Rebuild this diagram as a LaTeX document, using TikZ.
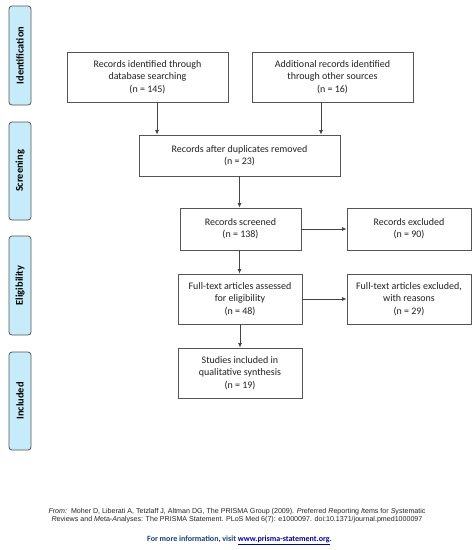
\documentclass[tikz,border=0pt]{standalone}
\usepackage{fontspec}
\setmainfont{Carlito}
\newfontfamily\arialfont{Liberation Sans}
\usetikzlibrary{arrows.meta,calc}
\definecolor{phasefill}{HTML}{C6ECF9}
\definecolor{boxline}{HTML}{555555}
\definecolor{linkblue}{HTML}{1F4E9A}
\definecolor{txtdark}{HTML}{222222}
\begin{document}
\begin{tikzpicture}[x=1pt,y=-1pt,
  stagebox/.style={draw=boxline,line width=0.8pt,fill=white,rectangle,align=center,
    inner sep=0pt,font=\fontsize{10}{12.4}\selectfont,text=txtdark},
  phase/.style={draw=boxline,line width=0.8pt,fill=phasefill,rounded corners=3pt,
    minimum height=22pt,inner sep=0pt,rotate=90,
    font=\bfseries\fontsize{10.4}{11}\selectfont,text=black},
  arr/.style={draw=boxline!80!black,line width=0.8pt,-{Latex[length=4.5pt,width=4pt]}}]
\useasboundingbox (0,0) rectangle (476,550);
% phase labels
\node[phase,minimum width=99pt] (pid) at (20,55.5) {Identification};
\node[phase,minimum width=98pt] (psc) at (20,171) {Screening};
\node[phase,minimum width=99pt] (pel) at (20,285.5) {Eligibility};
\node[phase,minimum width=98pt] (pin) at (20,401) {Included};
% boxes
\node[stagebox,minimum width=161pt,minimum height=50pt] (b1) at (147.5,77)
  {Records identified through\\database searching\\(n = 145)};
\node[stagebox,minimum width=161pt,minimum height=50pt] (b2) at (332.5,77)
  {Additional records identified\\through other sources\\(n = 16)};
\node[stagebox,minimum width=201pt,minimum height=41pt] (b3) at (239.5,155.5)
  {Records after duplicates removed\\(n = 23)};
\node[stagebox,minimum width=121pt,minimum height=42pt] (b4) at (240.5,229)
  {Records screened\\(n = 138)};
\node[stagebox,minimum width=124pt,minimum height=42pt] (b5) at (409,229)
  {Records excluded\\(n = 90)};
\node[stagebox,minimum width=124pt,minimum height=50pt] (b6) at (240,299)
  {Full-text articles assessed\\for eligibility\\(n = 48)};
\node[stagebox,minimum width=124pt,minimum height=50pt] (b7) at (409,299)
  {Full-text articles excluded,\\with reasons\\(n = 29)};
\node[stagebox,minimum width=124pt,minimum height=50pt] (b8) at (240,373)
  {Studies included in\\qualitative synthesis\\(n = 19)};
% connectors
\draw[arr] ([xshift=9.5pt]b1.south) -- ([xshift=9.5pt]b1.south |- b3.north);
\draw[arr] ([xshift=-11.5pt]b2.south) -- ([xshift=-11.5pt]b2.south |- b3.north);
\draw[arr] (b3.south) -- (b3.south |- b4.north);
\draw[arr] (b4.east) -- (b4.east -| b5.west);
\draw[arr] ([xshift=-1pt]b4.south) -- ([xshift=-1pt]b4.south |- b6.north);
\draw[arr] (b6.east) -- (b6.east -| b7.west);
\draw[arr] (b6.south) -- (b6.south |- b8.north);
% footer
\node[align=center,inner sep=0pt,font=\arialfont\fontsize{7.1}{7.4}\selectfont,text=txtdark] (ref) at (237,515.5)
  {\textit{From:}\ \ Moher D, Liberati A, Tetzlaff J, Altman DG, The PRISMA Group (2009). \textit{P}referred \textit{R}eporting \textit{I}tems for \textit{S}ystematic\\
   \textit{R}eviews and \textit{M}eta-\textit{A}nalyses: The PRISMA Statement. PLoS Med 6(7): e1000097. doi:10.1371/journal.pmed1000097};
\node[inner sep=0pt,font=\bfseries\fontsize{8}{9}\selectfont,text=linkblue!80!black] (more) at (239.5,540)
  {For more information, visit {\color{blue!70!black}\underline{www.prisma-statement.org}}.};
\end{tikzpicture}
\end{document}
